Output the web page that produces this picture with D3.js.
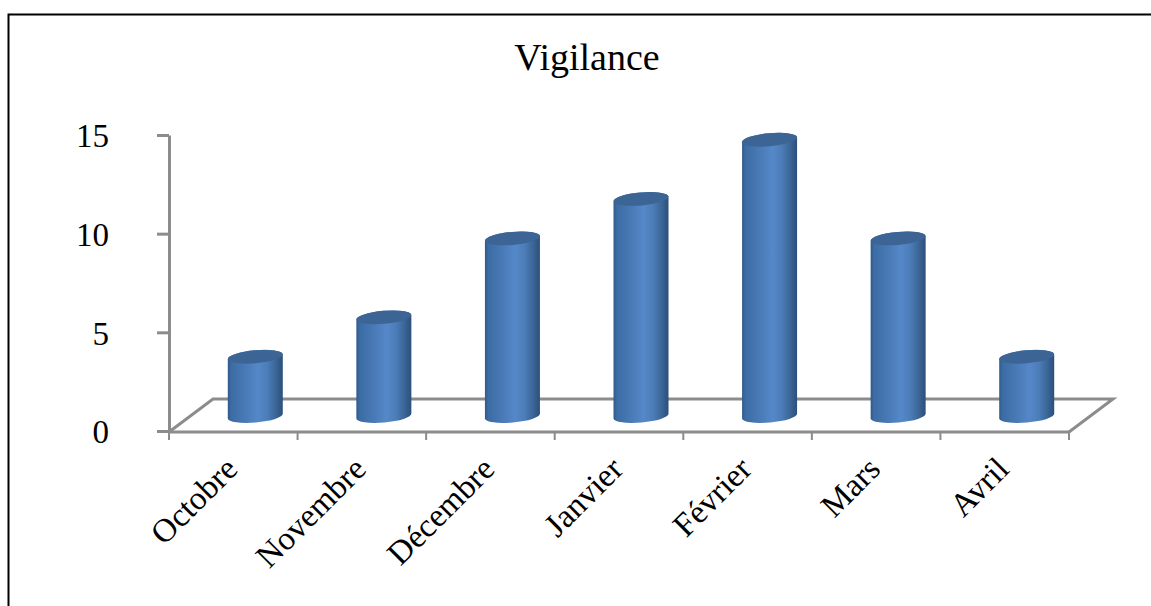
<!DOCTYPE html>
<html><head><meta charset="utf-8">
<script src="https://cdn.jsdelivr.net/npm/d3@7"></script>
<style>html,body{margin:0;padding:0;background:#fff}svg{display:block}text{font-family:"Liberation Serif",serif;fill:#000}</style>
</head><body><svg id="c" width="1151" height="606"></svg>
<script>
const categories=["Octobre","Novembre","Décembre","Janvier","Février","Mars","Avril"];
const values=[3,5,9,11,14,9,3];
const yTicks=[0,5,10,15];
const title="Vigilance";

const svg=d3.select("#c");
const x0=169,x1=1069,y0=431,y15=135,dx=44,dy=32;
const x=d3.scaleBand().domain(categories).range([x0,x1]);
const y=d3.scaleLinear().domain([0,15]).range([y0,y15]);
const grey="#8c8c8c";

const defs=svg.append("defs");
const g=defs.append("linearGradient").attr("id","cyl").attr("x1","0").attr("x2","1").attr("y1","0").attr("y2","0");
[[0,"#30598a"],[.06,"#3c6ca3"],[.3,"#4879b5"],[.55,"#5588c9"],[.72,"#4c7db8"],[.88,"#3a6595"],[1,"#2c4f7a"]]
 .forEach(s=>g.append("stop").attr("offset",s[0]).attr("stop-color",s[1]));

svg.append("path").attr("d","M8.5,606V14.5H1151").attr("fill","none").attr("stroke","#000").attr("stroke-width",2);

svg.append("text").attr("x",587).attr("y",70).attr("text-anchor","middle").attr("font-size",38).text(title);

// floor
svg.append("path").attr("fill","none").attr("stroke",grey).attr("stroke-width",3)
 .attr("d",`M${x0},${y0+1}L${x0+dx},${y0-dy}H${x1+dx}L${x1},${y0+1}`);

const ay=d3.axisLeft(y).tickValues(yTicks).tickSize(12).tickSizeOuter(0);
const gy=svg.append("g").attr("transform",`translate(${x0},0)`).call(ay);
gy.selectAll("path,line").attr("stroke",grey).attr("stroke-width",3);
gy.selectAll("text").attr("font-size",33).attr("font-family","Liberation Serif").attr("fill","#000").attr("dy","0.36em").attr("x",-60).attr("text-anchor","end");

const gx=svg.append("g").attr("transform",`translate(0,${y0+1})`);
gx.append("line").attr("x1",x0).attr("x2",x1).attr("stroke",grey).attr("stroke-width",3);
const edges=categories.map(c=>x(c)).concat([x1]);
gx.selectAll(".t").data(edges).join("line").attr("class","t").attr("x1",d=>d).attr("x2",d=>d).attr("y2",8).attr("stroke",grey).attr("stroke-width",2);
gx.selectAll("text").data(categories).join("text").attr("font-size",33)
 .attr("text-anchor","end")
 .attr("transform",c=>`translate(${x(c)+x.bandwidth()/2+6},${39}) rotate(-45)`)
 .text(c=>c);

// cylinders
const rx=27.5,ry=6.5,tilt=-5,slope=Math.tan(tilt*Math.PI/180)*rx,off=15;
const cx=c=>x(c)+x.bandwidth()/2+22;
const bars=svg.selectAll(".bar").data(categories.map((c,i)=>({c,v:values[i]}))).join("g").attr("class","bar");
bars.append("path").attr("fill","url(#cyl)").attr("d",d=>{
 const X=cx(d.c),T=y(d.v)-off,B=y(0)-off;
 return `M${X-rx},${T-slope}L${X-rx},${B-slope}A${rx},${ry} ${tilt} 0 0 ${X+rx},${B+slope}L${X+rx},${T+slope}A${rx},${ry} ${tilt} 0 0 ${X-rx},${T-slope}Z`;
});
bars.append("ellipse").attr("cx",d=>cx(d.c)).attr("cy",d=>y(d.v)-off).attr("rx",rx).attr("ry",ry)
 .attr("transform",d=>`rotate(${tilt} ${cx(d.c)} ${y(d.v)-off})`).attr("fill","#3c6595");
</script></body></html>
